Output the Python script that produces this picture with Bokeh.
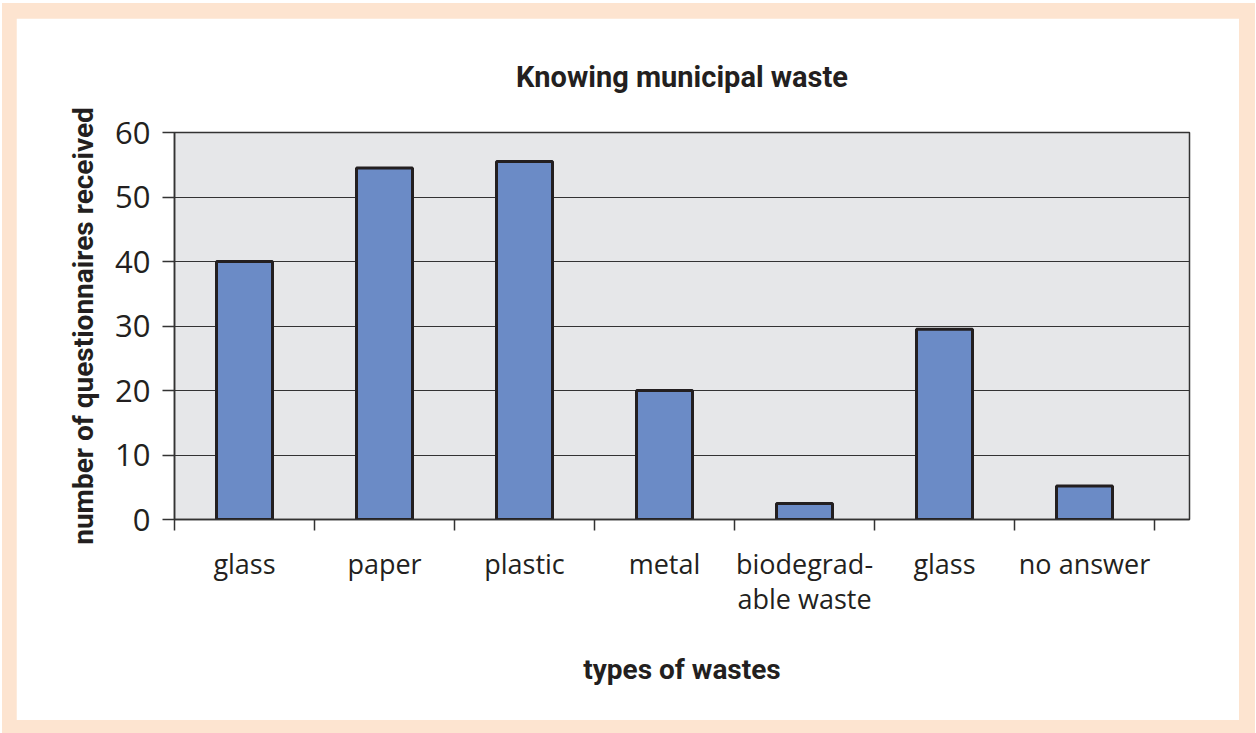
from bokeh.plotting import figure
from bokeh.models import FixedTicker, Range1d, ColumnDataSource
from bokeh.layouts import column
from bokeh.embed import file_html
from bokeh.resources import INLINE

categories = ["glass", "paper", "plastic", "metal", "biodegrad-\nable waste", "glass", "no answer"]
values = [40, 54.5, 55.5, 20, 2.5, 29.5, 5.2]
y_ticks = [0, 10, 20, 30, 40, 50, 60]

positions = [i + 0.5 for i in range(len(categories))]
boundaries = list(range(len(categories) + 1))

src = ColumnDataSource(dict(x=positions, top=values, cat=categories))

DARK = "#231f20"

p = figure(width=1223, height=702, output_backend="svg", toolbar_location=None,
           x_range=Range1d(0, 7.25), y_range=Range1d(0, 60),
           min_border_left=158, min_border_right=50, min_border_top=113, min_border_bottom=201,
           background_fill_color="#e6e7e9", border_fill_color="white")

p.title.text = "Knowing municipal waste"
p.title.align = "center"
p.title.text_font = "Roboto"
p.title.text_font_style = "bold"
p.title.text_font_size = "29px"
p.title.text_color = DARK
p.title.standoff = 78

p.vbar(x="x", top="top", width=0.4, bottom=0, source=src,
       fill_color="#6b8bc6", line_color=DARK, line_width=3)

p.outline_line_color = "#333333"
p.outline_line_width = 1.5

p.xgrid.visible = False
p.ygrid.ticker = FixedTicker(ticks=y_ticks)
p.ygrid.grid_line_color = "#333333"
p.ygrid.grid_line_width = 1.2

xa = p.xaxis[0]
xa.ticker = FixedTicker(ticks=positions, minor_ticks=boundaries)
xa.major_label_overrides = {pos: lab for pos, lab in zip(positions, categories)}
xa.major_tick_out = 0
xa.major_tick_in = 0
xa.minor_tick_out = 11
xa.minor_tick_in = 0
xa.minor_tick_line_color = "#333333"
xa.minor_tick_line_width = 1.5
xa.axis_line_color = "#333333"
xa.axis_line_width = 1.5
xa.major_label_standoff = 14
xa.major_label_text_font = "Open Sans"
xa.major_label_text_font_size = "27px"
xa.major_label_text_line_height = 0.95
xa.major_label_text_color = DARK
xa.axis_label = "types of wastes"
xa.axis_label_text_font = "Roboto"
xa.axis_label_text_font_style = "bold"
xa.axis_label_text_font_size = "28px"
xa.axis_label_text_color = DARK
xa.axis_label_standoff = 33

ya = p.yaxis[0]
ya.ticker = FixedTicker(ticks=y_ticks)
ya.major_tick_out = 12
ya.major_tick_in = 0
ya.minor_tick_out = 0
ya.minor_tick_in = 0
ya.major_tick_line_color = "#333333"
ya.major_tick_line_width = 1.5
ya.axis_line_color = "#333333"
ya.axis_line_width = 1.5
ya.major_label_standoff = 12
ya.major_label_text_font = "Open Sans"
ya.major_label_text_font_size = "31px"
ya.major_label_text_color = DARK
ya.axis_label = "number of questionnaires received"
ya.axis_label_text_font = "Roboto"
ya.axis_label_text_font_style = "bold"
ya.axis_label_text_font_size = "28px"
ya.axis_label_text_color = DARK
ya.axis_label_standoff = 12

layout = column(p, styles={"background-color": "#fde4d0",
                           "padding": "15px 16px 13px 14px",
                           "margin": "3px 0 0 2px"})

open("out.html", "w").write(file_html(layout, INLINE))
